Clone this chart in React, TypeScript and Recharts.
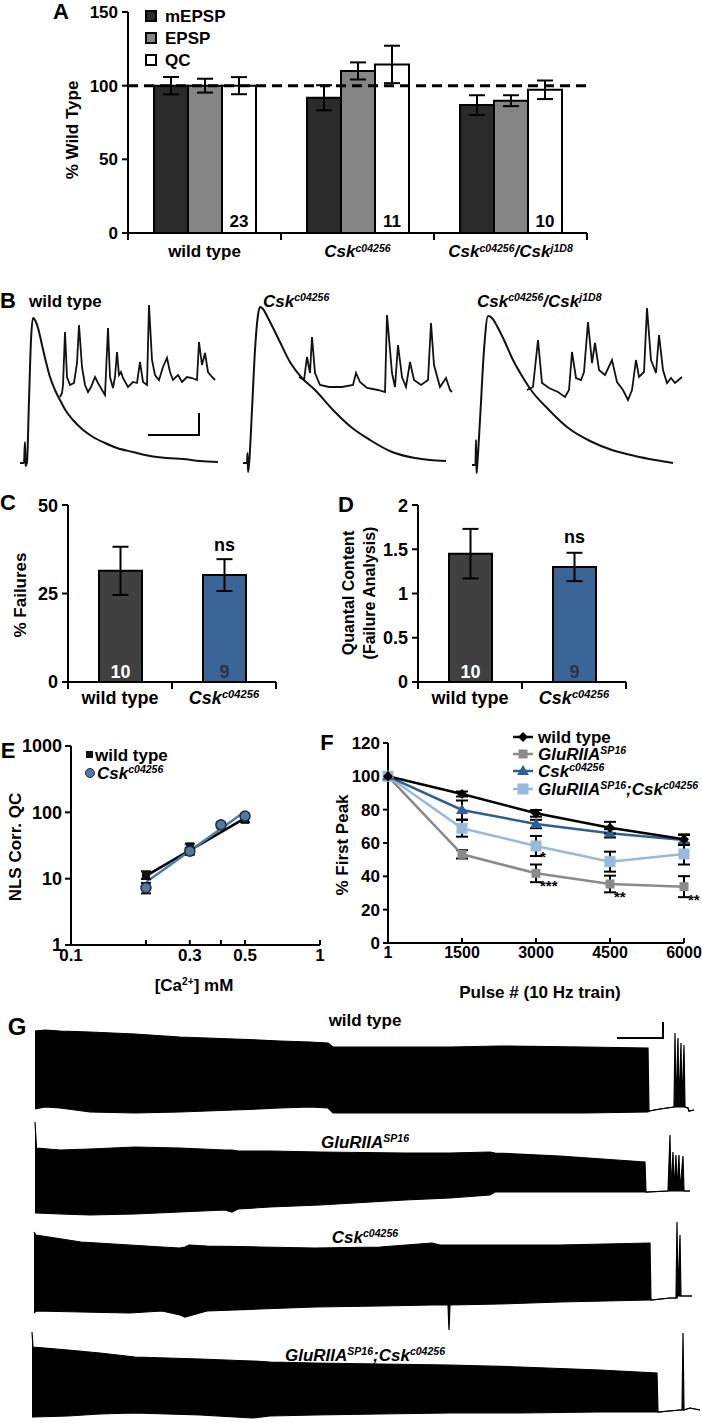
import React from "react";
import {
  Area,
  Bar,
  BarChart,
  Cell,
  ComposedChart,
  ErrorBar,
  LabelList,
  Line,
  LineChart,
  ReferenceLine,
  Scatter,
  XAxis,
  YAxis,
} from "recharts";

const FONT = '"Liberation Sans", Arial, Helvetica, sans-serif';

// ---------- data ----------
// A: % wild type
const A_CATS = ["wt", "csk", "trans"];
const A_SERIES = ["mEPSP", "EPSP", "QC"];
const A_MEPSP = [100, 91.8, 86.8];
const A_MEPSP_ERR = [5.9, 8.5, 6.7];
const A_EPSP = [100, 110, 89.8];
const A_EPSP_ERR = [4.7, 5.8, 3.7];
const A_QC = [100, 114.4, 97.2];
const A_QC_ERR = [5.8, 12.7, 6.3];
const A_N = [23, 11, 10];
const A_TICKS = [0, 50, 100, 150];

// C / D
const CD_CATS = ["wt", "csk"];
const C_FAIL = [31.4, 30.2];
const C_FAIL_ERR = [6.8, 4.5];
const D_QC = [1.45, 1.3];
const D_QC_ERR = [0.28, 0.16];
const CD_N = [10, 9];
const CD_SIG = ["", "ns"];
const C_TICKS = [0, 25, 50];
const D_TICKS = [0, 0.5, 1, 1.5, 2];

// E: log-log Ca dependence
const E_CA = [0.2, 0.3, 0.4, 0.5];
const E_WT = [11.4, 30.6, 63, 77];
const E_WT_ERR = [1.5, 3, 4, 6];
const E_CSK = [7.3, 26, 65, 88];
const E_CSK_ERR = [1.3, 3, 5, 7];
const E_FIT_CA = [0.2, 0.5];
const E_WT_FIT = [11, 82];
const E_CSK_FIT = [8.8, 103];
const E_XTICKS = [0.1, 0.2, 0.3, 0.4, 0.5, 1];
const E_XLABELS = [0.1, 0.3, 0.5, 1];
const E_YTICKS = [1, 10, 100, 1000];

// F: % first peak during 10 Hz train
const F_PULSE = ["1", "1500", "3000", "4500", "6000"];
const F_WT = [100, 89.4, 77.8, 69.2, 62.2];
const F_WT_ERR = [0, 1.5, 2, 3.5, 3];
const F_GLU = [100, 53.2, 41.8, 35.4, 33.8];
const F_GLU_ERR = [0, 2.5, 5.3, 5, 6.3];
const F_CSK = [100, 79.8, 71.4, 65.8, 61.8];
const F_CSK_ERR = [0, 5.7, 2.5, 2.5, 3];
const F_DBL = [100, 68.8, 58.2, 48.8, 53.4];
const F_DBL_ERR = [0, 5, 6, 6, 6.3];
const F_GLU_SIG = ["", "", "***", "**", "**"];
const F_DBL_SIG = ["", "", "*", "", ""];
const F_YTICKS = [0, 20, 40, 60, 80, 100, 120];

// B: representative traces [time, amplitude]
const B1_EPSP = [[5,7],[9,7],[10,28],[10.5,4],[12,8],[14,70],[16,130],[18,152],[20,150],[23,142],[27,125],[31,108],[35,93],[40,80],[45,70],[51,59],[58,50],[67,41],[78,33],[90,27],[102,22],[118,18],[135,14],[152,12],[168,11],[185,9],[203,8]];
const B1_MINI = [[45,73],[47,77],[48,85],[50,138],[52,93],[55,85],[59,87],[62,107],[64,145],[67,103],[70,85],[73,78],[76,83],[80,93],[83,87],[87,80],[90,75],[93,142],[95,93],[98,82],[100,93],[102,118],[104,95],[106,98],[108,92],[113,83],[118,88],[122,87],[125,108],[128,88],[132,85],[134,165],[137,110],[140,95],[144,90],[148,103],[152,112],[155,98],[158,90],[163,95],[167,88],[172,93],[177,92],[182,90],[184,128],[187,105],[190,117],[193,98],[197,93],[200,90]];
const B_SCALE = [[133,35],[184,35],[184,57]];
const B2_EPSP = [[3,7],[7,7],[7.5,17],[8,-2],[9,5],[12,60],[15,120],[18,155],[20,163],[23,161],[28,152],[39,130],[50,108],[62,92],[75,80],[93,60],[111,43],[130,30],[152,18],[175,12],[190,10],[206,9]];
const B2_MINI = [[59,93],[64,90],[67,113],[70,97],[72,133],[75,97],[80,85],[89,83],[102,83],[113,85],[116,97],[120,88],[127,82],[138,80],[145,78],[147,155],[152,97],[155,83],[158,125],[162,93],[166,83],[170,108],[174,90],[181,85],[188,90],[191,147],[194,105],[200,83],[206,92],[210,80],[212,78]];
const B3_EPSP = [[2,5],[5.5,5],[6,30],[6.5,-3],[7,2],[10,50],[14,120],[18,154],[22,152],[27,144],[34,130],[43,110],[52,94],[61,80],[79,60],[97,43],[120,29],[142,20],[165,14],[185,10],[203,7]];
const B3_MINI = [[57,80],[63,83],[68,130],[72,87],[79,82],[88,78],[95,73],[99,80],[102,118],[106,92],[111,90],[114,98],[118,148],[122,107],[125,127],[129,100],[135,95],[142,110],[147,88],[153,80],[158,70],[162,80],[166,110],[169,93],[174,98],[177,162],[181,110],[186,97],[189,135],[193,100],[197,87],[201,92],[205,87],[212,93]];

// G: train recordings envelope [time, low, high]
const G1 = [[5,11,89],[15,13,90],[30,12,89],[60,8,88],[105,7,86],[150,8,83],[204,10,81],[250,12,79],[280,13,78],[298,12,77],[303,7,73],[375,7,73],[420,7,73],[470,7,74],[555,7,73],[618,8,72],[619,9,9],[630,11,11],[644,13,13],[645,13,87],[646,13,13],[648,13,82],[649,13,13],[651,13,77],[652,13,13],[654,13,75],[655,13,13],[658,12,12],[659,9,9],[664,10,10]];
const G2 = [[5,12,103],[6.5,12,77],[30,11,75],[60,10,76],[105,11,78],[150,13,77],[195,15,75],[202,13,75],[208,16,74],[240,18,74],[290,20,73],[375,25,72],[420,27,72],[460,30,73],[465,33,72],[530,33,69],[615,33,63],[616,33,33],[638,34,34],[640,34,90],[641,34,34],[643,34,73],[644,34,34],[646,34,70],[647,34,34],[649,34,70],[650,34,34],[653,34,69],[654,34,34],[660,34,34]];
const G3 = [[4,22,103],[6,24,100],[51,23,93],[100,22,90],[132,24,88],[150,20,87],[155,18,88],[159,19,90],[177,24,89],[230,26,88],[285,28,87],[350,29,88],[402,30,92],[410,30,90],[418,30,90],[419,5,90],[420,30,90],[470,31,90],[530,33,90],[620,35,92],[621,35,35],[640,37,37],[646,37,37],[647,37,113],[648,39,39],[650,39,100],[651,39,39],[662,39,39]];
const G4 = [[2,6,91],[3,6,76],[38,7,73],[70,9,70],[105,10,66],[170,8,64],[222,5,62],[240,7,61],[285,8,60],[350,9,59],[420,10,58],[490,10,56],[570,11,53],[627,11,50],[628,11,11],[650,13,13],[652,13,13],[653,13,90],[654,13,13],[660,15,15],[670,13,13]];
const G_SCALE = [[587,82],[633,82],[633,98]];

// ---------- labels ----------
type Seg = { t: string; it?: boolean; sup?: boolean };
const LBL: Record<string, Seg[]> = {
  wt: [{ t: "wild type" }],
  csk: [{ t: "Csk", it: true }, { t: "c04256", it: true, sup: true }],
  trans: [
    { t: "Csk", it: true }, { t: "c04256", it: true, sup: true },
    { t: "/Csk", it: true }, { t: "j1D8", it: true, sup: true },
  ],
  glu: [{ t: "GluRIIA", it: true }, { t: "SP16", it: true, sup: true }],
  dbl: [
    { t: "GluRIIA", it: true }, { t: "SP16", it: true, sup: true },
    { t: ";Csk", it: true }, { t: "c04256", it: true, sup: true },
  ],
};

const A_COLORS = ["#2a2a2a", "#858585", "#ffffff"];
const CD_COLORS = ["#404040", "#3b6597"];
const CD_NCOLORS = ["#ffffff", "#1f3550"];

const F_SERIES = [
  { key: "glu", color: "#8a8a8a", mk: "sq", vals: F_GLU, err: F_GLU_ERR, sig: F_GLU_SIG, sdx: 4, sdy: 18 },
  { key: "dbl", color: "#98b8de", mk: "sqL", vals: F_DBL, err: F_DBL_ERR, sig: F_DBL_SIG, sdx: 4, sdy: 16 },
  { key: "csk", color: "#2e5e92", mk: "tri", vals: F_CSK, err: F_CSK_ERR, sig: null, sdx: 0, sdy: 0 },
  { key: "wt", color: "#000000", mk: "dia", vals: F_WT, err: F_WT_ERR, sig: null, sdx: 0, sdy: 0 },
];
const F_LEGEND = ["wt", "glu", "csk", "dbl"];

// ---------- helpers ----------
const AX = { stroke: "#000", strokeWidth: 2 };
const tickStyle = (size = 17) => ({ fill: "#000", fontSize: size, fontWeight: 700, fontFamily: FONT });

function Rich({ segs }: { segs: Seg[] }) {
  return (
    <>
      {segs.map((s, i) =>
        s.sup ? (
          <sup key={i} style={{ fontSize: "0.62em", fontStyle: s.it ? "italic" : "normal", lineHeight: 0, verticalAlign: "0.5em" }}>{s.t}</sup>
        ) : (
          <span key={i} style={{ fontStyle: s.it ? "italic" : "normal" }}>{s.t}</span>
        )
      )}
    </>
  );
}

function SvgRich({ x, y, segs, size = 17 }: { x: number; y: number; segs: Seg[]; size?: number }) {
  let prev = false;
  return (
    <text x={x} y={y} textAnchor="middle" fontFamily={FONT} fontWeight="bold" fontSize={size} fill="#000">
      {segs.map((s, i) => {
        const sup = !!s.sup;
        const dy = sup && !prev ? -size * 0.32 : !sup && prev ? size * 0.32 : 0;
        prev = sup;
        return (
          <tspan key={i} dy={dy} fontSize={sup ? size * 0.62 : size} fontStyle={s.it ? "italic" : "normal"}>
            {s.t}
          </tspan>
        );
      })}
    </text>
  );
}

function Txt({ x, y, size = 17, anchor = "start", rot = false, weight = 700, children }: any) {
  const tx = anchor === "middle" ? "-50%" : anchor === "end" ? "-100%" : "0";
  return (
    <div
      style={{
        position: "absolute", left: x, top: y, fontFamily: FONT, fontSize: size, fontWeight: weight,
        color: "#000", lineHeight: 1, whiteSpace: "nowrap",
        transform: `translate(${tx}, -50%)${rot ? " rotate(-90deg)" : ""}`,
      }}
    >
      {children}
    </div>
  );
}

function CatTick(props: any) {
  const { x, y, payload, half, dy = 24, size = 17 } = props;
  const segs = LBL[payload?.value] ?? [{ t: String(payload?.value) }];
  return (
    <g>
      <line x1={x - half} x2={x - half} y1={y} y2={y + 7} stroke="#000" strokeWidth={2} />
      <line x1={x + half} x2={x + half} y1={y} y2={y + 7} stroke="#000" strokeWidth={2} />
      <SvgRich x={x} y={y + dy} segs={segs} size={size} />
    </g>
  );
}

function box(p: any) {
  const vb = p.viewBox ?? {};
  return { x: p.x ?? vb.x, y: p.y ?? vb.y, w: p.width ?? vb.width ?? 0, h: p.height ?? vb.height ?? 0 };
}

function NLabel(props: any) {
  const { value, index, colors, off = 6, size = 17 } = props;
  const b = box(props);
  return (
    <text x={b.x + b.w / 2} y={b.y + b.h - off} textAnchor="middle" fontFamily={FONT} fontWeight="bold" fontSize={size} fill={colors ? colors[index] : "#000"}>
      {value}
    </text>
  );
}

function SigLabel(props: any) {
  const { value } = props;
  const b = box(props);
  if (!value) return <g />;
  return (
    <text x={b.x + b.w / 2} y={b.y - 24} textAnchor="middle" fontFamily={FONT} fontWeight="bold" fontSize={18} fill="#000">
      {value}
    </text>
  );
}

function Stars(props: any) {
  const { value, dx = 5, dy = 18 } = props;
  const b = box(props);
  if (!value) return <g />;
  return (
    <text x={b.x + dx} y={b.y + dy} fontFamily={FONT} fontWeight="bold" fontSize={15} fill="#000">
      {value}
    </text>
  );
}

function Mk({ kind, cx, cy, color }: any) {
  if (cx == null || cy == null) return <g />;
  if (kind === "dia") return <polygon points={`${cx},${cy - 5} ${cx + 5},${cy} ${cx},${cy + 5} ${cx - 5},${cy}`} fill={color} />;
  if (kind === "tri") return <polygon points={`${cx},${cy - 6} ${cx + 6},${cy + 4} ${cx - 6},${cy + 4}`} fill={color} />;
  const s = kind === "sqL" ? 11 : 9;
  return <rect x={cx - s / 2} y={cy - s / 2} width={s} height={s} fill={color} />;
}

const pts = (arr: number[][]) => arr.map(([t, v]) => ({ t, v }));

// ---------- panels ----------
function PanelA() {
  const data = A_CATS.map((c, i) => ({
    cat: c, m: A_MEPSP[i], mE: A_MEPSP_ERR[i], e: A_EPSP[i], eE: A_EPSP_ERR[i], q: A_QC[i], qE: A_QC_ERR[i], n: A_N[i],
  }));
  const keys = [["m", "mE"], ["e", "eE"], ["q", "qE"]];
  return (
    <BarChart width={702} height={290} data={data} barGap={0} margin={{ top: 12, right: 115, left: 0, bottom: 12 }}>
      <XAxis dataKey="cat" height={45} axisLine={AX} tickLine={false} tickSize={0} tickMargin={0} interval={0}
        tick={(p: any) => <CatTick {...p} half={(587 - 128) / A_CATS.length / 2} dy={24} />} />
      <YAxis width={128} domain={[0, 150]} ticks={A_TICKS} axisLine={AX} tickLine={AX} tickSize={6} tickMargin={4} tick={tickStyle(17)} allowDataOverflow />
      {keys.map(([k, ek], i) => (
        <Bar key={k} dataKey={k} name={A_SERIES[i]} fill={A_COLORS[i]} stroke="#000" strokeWidth={2} barSize={34} isAnimationActive={false}>
          <ErrorBar dataKey={ek} width={8} stroke="#000" strokeWidth={2} direction="y" />
          {k === "q" && <LabelList dataKey="n" content={<NLabel off={6} size={17} />} />}
        </Bar>
      ))}
      <ReferenceLine y={100} stroke="#000" strokeWidth={3} strokeDasharray="10 6" />
    </BarChart>
  );
}

function BarPanel({ values, errs, ticks, domain }: any) {
  const data = CD_CATS.map((c, i) => ({ cat: c, v: values[i], e: errs[i], n: CD_N[i], sig: CD_SIG[i] }));
  return (
    <BarChart width={290} height={215} data={data} margin={{ top: 10, right: 14, left: 0, bottom: 0 }}>
      <XAxis dataKey="cat" height={28} axisLine={AX} tickLine={false} tickSize={0} tickMargin={0} interval={0}
        tick={(p: any) => <CatTick {...p} half={(276 - 68) / CD_CATS.length / 2} dy={22} size={18} />} />
      <YAxis width={68} domain={domain} ticks={ticks} axisLine={AX} tickLine={AX} tickSize={6} tickMargin={4} tick={tickStyle(18)} allowDataOverflow />
      <Bar dataKey="v" stroke="#000" strokeWidth={2} barSize={43} isAnimationActive={false}>
        {data.map((d, i) => <Cell key={d.cat} fill={CD_COLORS[i]} />)}
        <ErrorBar dataKey="e" width={8} stroke="#000" strokeWidth={2} direction="y" />
        <LabelList dataKey="n" content={<NLabel colors={CD_NCOLORS} off={4} size={18} />} />
        <LabelList dataKey="sig" content={<SigLabel />} />
      </Bar>
    </BarChart>
  );
}

function PanelE() {
  const wt = E_CA.map((c, i) => ({ ca: c, qc: E_WT[i], err: E_WT_ERR[i] }));
  const csk = E_CA.map((c, i) => ({ ca: c, qc: E_CSK[i], err: E_CSK_ERR[i] }));
  const wtFit = E_FIT_CA.map((c, i) => ({ ca: c, qc: E_WT_FIT[i] }));
  const cskFit = E_FIT_CA.map((c, i) => ({ ca: c, qc: E_CSK_FIT[i] }));
  return (
    <ComposedChart width={340} height={264} margin={{ top: 10, right: 20, left: 0, bottom: 10 }}>
      <XAxis type="number" dataKey="ca" scale="log" domain={[0.1, 1]} ticks={E_XTICKS} interval={0} allowDataOverflow
        tickFormatter={(v: number) => (E_XLABELS.includes(v) ? String(v) : "")}
        height={45} axisLine={AX} tickLine={AX} tickSize={-5} tickMargin={9} tick={tickStyle(17)} />
      <YAxis type="number" scale="log" domain={[1, 1000]} ticks={E_YTICKS} interval={0} allowDataOverflow
        width={71} axisLine={AX} tickLine={AX} tickSize={6} tickMargin={3} tick={tickStyle(18)} />
      <Line data={wtFit} dataKey="qc" stroke="#000" strokeWidth={2.5} dot={false} isAnimationActive={false} />
      <Line data={cskFit} dataKey="qc" stroke="#4a7bb0" strokeWidth={2.5} dot={false} isAnimationActive={false} />
      <Scatter data={wt} dataKey="qc" isAnimationActive={false}
        shape={(p: any) => <rect x={p.cx - 4} y={p.cy - 4} width={8} height={8} fill="#111" />}>
        <ErrorBar dataKey="err" direction="y" width={5} stroke="#000" strokeWidth={2} />
      </Scatter>
      <Scatter data={csk} dataKey="qc" isAnimationActive={false}
        shape={(p: any) => <circle cx={p.cx} cy={p.cy} r={5} fill="#5677a2" stroke="#1e2d40" strokeWidth={1.5} />}>
        <ErrorBar dataKey="err" direction="y" width={5} stroke="#000" strokeWidth={2} />
      </Scatter>
    </ComposedChart>
  );
}

function PanelF() {
  const data = F_PULSE.map((p, i) => {
    const row: any = { pulse: p };
    F_SERIES.forEach((s) => {
      row[s.key] = s.vals[i];
      row[s.key + "E"] = s.err[i];
      if (s.sig) row[s.key + "S"] = s.sig[i];
    });
    return row;
  });
  return (
    <LineChart width={372} height={270} data={data} margin={{ top: 13, right: 18, left: 0, bottom: 10 }}>
      <XAxis dataKey="pulse" height={47} axisLine={AX} tickLine={AX} tickSize={-5} tickMargin={9} interval={0} tick={tickStyle(16)} />
      <YAxis width={58} domain={[0, 120]} ticks={F_YTICKS} axisLine={AX} tickLine={AX} tickSize={5} tickMargin={3} tick={tickStyle(17)} allowDataOverflow />
      {F_SERIES.map((s) => (
        <Line key={s.key} dataKey={s.key} stroke={s.color} strokeWidth={2.5} isAnimationActive={false}
          dot={(p: any) => <Mk key={`${s.key}-${p.index}`} kind={s.mk} cx={p.cx} cy={p.cy} color={s.color} />}
          activeDot={false}>
          <ErrorBar dataKey={s.key + "E"} width={6} stroke="#000" strokeWidth={2} direction="y" />
          {s.sig && <LabelList dataKey={s.key + "S"} content={<Stars dx={s.sdx} dy={s.sdy} />} />}
        </Line>
      ))}
    </LineChart>
  );
}

function BTrace({ epsp, mini, scale }: any) {
  return (
    <ComposedChart width={220} height={180} margin={{ top: 0, right: 0, left: 0, bottom: 0 }}>
      <XAxis type="number" dataKey="t" domain={[0, 220]} hide allowDataOverflow />
      <YAxis type="number" domain={[-5, 175]} hide allowDataOverflow />
      <Line data={pts(epsp)} dataKey="v" type="monotone" stroke="#111" strokeWidth={2} dot={false} isAnimationActive={false} />
      <Line data={pts(mini)} dataKey="v" stroke="#111" strokeWidth={1.8} dot={false} isAnimationActive={false} />
      {scale && <Line data={pts(scale)} dataKey="v" stroke="#000" strokeWidth={2} dot={false} isAnimationActive={false} />}
    </ComposedChart>
  );
}

function GTrace({ rows, height, scale }: any) {
  const data = rows.map(([t, lo, hi]: number[]) => ({ t, r: [lo, hi] }));
  return (
    <ComposedChart width={672} height={height} data={data} margin={{ top: 0, right: 0, left: 0, bottom: 0 }}>
      <XAxis type="number" dataKey="t" domain={[0, 672]} hide allowDataOverflow />
      <YAxis type="number" domain={[0, height]} hide allowDataOverflow />
      <Area type="linear" dataKey="r" fill="#000" fillOpacity={1} stroke="#000" strokeWidth={1.2} isAnimationActive={false} />
      {scale && <Line data={pts(scale)} dataKey="v" stroke="#000" strokeWidth={2} dot={false} isAnimationActive={false} />}
    </ComposedChart>
  );
}

const at = (left: number, top: number) => ({ position: "absolute" as const, left, top });

export default function App() {
  return (
    <div style={{ position: "relative", width: 702, height: 1423, background: "#fff", overflow: "hidden", fontFamily: FONT }}>
      <style>{"body{margin:0}"}</style>

      <div style={at(0, 0)}><PanelA /></div>
      <div style={at(15, 295)}><BTrace epsp={B1_EPSP} mini={B1_MINI} scale={B_SCALE} /></div>
      <div style={at(240, 295)}><BTrace epsp={B2_EPSP} mini={B2_MINI} /></div>
      <div style={at(470, 295)}><BTrace epsp={B3_EPSP} mini={B3_MINI} /></div>
      <div style={at(0, 495)}><BarPanel values={C_FAIL} errs={C_FAIL_ERR} ticks={C_TICKS} domain={[0, 50]} /></div>
      <div style={at(350, 495)}><BarPanel values={D_QC} errs={D_QC_ERR} ticks={D_TICKS} domain={[0, 2]} /></div>
      <div style={at(0, 736)}><PanelE /></div>
      <div style={at(330, 730)}><PanelF /></div>
      <div style={at(30, 1020)}><GTrace rows={G1} height={100} scale={G_SCALE} /></div>
      <div style={at(30, 1115)}><GTrace rows={G2} height={110} /></div>
      <div style={at(30, 1215)}><GTrace rows={G3} height={120} /></div>
      <div style={at(30, 1325)}><GTrace rows={G4} height={98} /></div>

      {/* A */}
      <Txt x={61} y={12} size={22} anchor="middle">A</Txt>
      {A_SERIES.map((s, i) => (
        <React.Fragment key={s}>
          <div style={{ ...at(145, 10 + i * 22), width: 12, height: 12, background: A_COLORS[i], border: "2px solid #000", boxSizing: "border-box" }} />
          <Txt x={165} y={16 + i * 22}>{s}</Txt>
        </React.Fragment>
      ))}
      <Txt x={72} y={130} anchor="middle" rot>% Wild Type</Txt>

      {/* B */}
      <Txt x={8} y={301} size={22} anchor="middle">B</Txt>
      <Txt x={29} y={301}><Rich segs={LBL.wt} /></Txt>
      <Txt x={263} y={301}><Rich segs={LBL.csk} /></Txt>
      <Txt x={477} y={301}><Rich segs={LBL.trans} /></Txt>

      {/* C / D */}
      <Txt x={8} y={503} size={22} anchor="middle">C</Txt>
      <Txt x={20} y={595} anchor="middle" rot>% Failures</Txt>
      <Txt x={346} y={505} size={22} anchor="middle">D</Txt>
      <Txt x={349} y={593} size={16} anchor="middle" rot>Quantal Content</Txt>
      <Txt x={370} y={593} size={16} anchor="middle" rot>(Failure Analysis)</Txt>

      {/* E */}
      <Txt x={8} y={751} size={22} anchor="middle">E</Txt>
      <div style={{ ...at(86, 751), width: 7, height: 7, background: "#111" }} />
      <Txt x={95} y={755}>wild type</Txt>
      <div style={{ ...at(85, 768), width: 10, height: 10, borderRadius: "50%", background: "#5677a2", border: "1.5px solid #1e2d40", boxSizing: "border-box" }} />
      <Txt x={97} y={773}><Rich segs={LBL.csk} /></Txt>
      <Txt x={15} y={847} anchor="middle" rot>NLS Corr. QC</Txt>
      <Txt x={194} y={985} anchor="middle">[Ca<sup style={{ fontSize: "0.6em", lineHeight: 0, verticalAlign: "0.5em" }}>2+</sup>] mM</Txt>

      {/* F */}
      <Txt x={327} y={743} size={22} anchor="middle">F</Txt>
      <svg style={at(505, 725)} width={36} height={75}>
        {F_LEGEND.map((k, i) => {
          const s = F_SERIES.find((f) => f.key === k)!;
          const cy = [12, 29, 46, 64][i];
          return (
            <g key={k}>
              <line x1={8} x2={28} y1={cy} y2={cy} stroke={s.color} strokeWidth={2.5} />
              <Mk kind={s.mk} cx={18} cy={cy} color={s.color} />
            </g>
          );
        })}
      </svg>
      {F_LEGEND.map((k, i) => (
        <Txt key={k} x={538} y={[737, 754, 771, 789][i]}><Rich segs={LBL[k]} /></Txt>
      ))}
      <Txt x={342} y={845} anchor="middle" rot>% First Peak</Txt>
      <Txt x={540} y={992} anchor="middle">Pulse # (10 Hz train)</Txt>

      {/* G */}
      <Txt x={17} y={1027} size={24} anchor="middle">G</Txt>
      <Txt x={365} y={1020} anchor="middle"><Rich segs={LBL.wt} /></Txt>
      <Txt x={365} y={1142} anchor="middle"><Rich segs={LBL.glu} /></Txt>
      <Txt x={365} y={1237} anchor="middle"><Rich segs={LBL.csk} /></Txt>
      <Txt x={365} y={1355} anchor="middle"><Rich segs={LBL.dbl} /></Txt>
    </div>
  );
}
